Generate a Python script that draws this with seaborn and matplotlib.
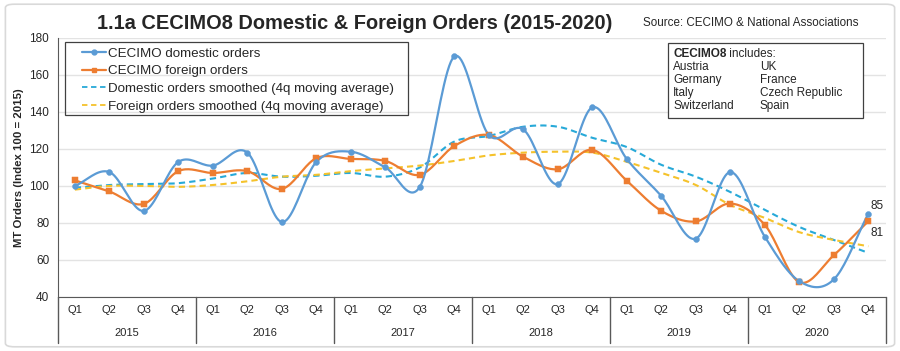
import numpy as np
import matplotlib
matplotlib.use("Agg")
import matplotlib.pyplot as plt
import matplotlib.transforms as mtransforms
from matplotlib.lines import Line2D
from matplotlib.patches import FancyBboxPatch
import seaborn as sns

# Data
years = ["2015", "2016", "2017", "2018", "2019", "2020"]
quarters = ["Q1", "Q2", "Q3", "Q4"]
domestic = [100, 107.5, 86.5, 113, 111, 118, 80.5, 113, 118.5, 110, 99.5, 170,
            127.5, 130.5, 101, 142.5, 114.5, 94.5, 71.5, 107.5, 72.5, 48.5, 49.5, 85]
foreign = [103, 97, 90.3, 108, 107, 108, 98.4, 115, 114.6, 113.5, 106, 121.6,
           127.5, 115.7, 109, 119.5, 102.8, 86.5, 80.8, 90.5, 78.9, 48, 62.6, 81]
domestic_smooth = [99, 100.5, 101, 101.5, 104, 107, 105, 105.5, 107, 105, 110, 124,
                   127, 132, 132, 126, 121, 111.4, 105, 96.7, 87, 77.8, 70.8, 63.8]
foreign_smooth = [98, 100, 100, 99.5, 100.5, 102.5, 105, 106, 108, 109.5, 111, 113.5,
                  116.5, 118, 118.5, 118, 113, 107, 100.5, 89.7, 82.7, 75, 70.8, 67.4]
countries_left = ["Austria", "Germany", "Italy", "Switzerland"]
countries_right = ["UK", "France", "Czech Republic", "Spain"]

c_dom = "#5B9BD5"
c_for = "#ED7D31"
c_dom_s = "#27A9D8"
c_for_s = "#F5C22B"


def smooth(y, n=20):
    # Catmull-Rom kurva genom punkterna (som Excels "utjämnad linje")
    y = np.asarray(y, dtype=float)
    x = np.arange(len(y), dtype=float)
    p = np.concatenate([[2 * y[0] - y[1]], y, [2 * y[-1] - y[-2]]])
    xs, ys = [], []
    t = np.linspace(0, 1, n, endpoint=False)
    for i in range(len(y) - 1):
        p0, p1, p2, p3 = p[i], p[i + 1], p[i + 2], p[i + 3]
        seg = 0.5 * ((2 * p1) + (-p0 + p2) * t + (2 * p0 - 5 * p1 + 4 * p2 - p3) * t ** 2
                     + (-p0 + 3 * p1 - 3 * p2 + p3) * t ** 3)
        xs.append(x[i] + t)
        ys.append(seg)
    xs.append([x[-1]])
    ys.append([y[-1]])
    return np.concatenate(xs), np.concatenate(ys)


sns.set_style("white")
plt.rcParams["font.family"] = ["Liberation Sans", "DejaVu Sans"]

fig = plt.figure(figsize=(9, 3.51), dpi=100)
ax = fig.add_axes([0.064, 0.154, 0.920, 0.738])

# yttre ram
fig.patches.append(FancyBboxPatch((0.006, 0.012), 0.988, 0.976, boxstyle="round,pad=0,rounding_size=0.01",
                                  transform=fig.transFigure, fill=False, edgecolor="#D9D9D9", lw=1.2))

n = len(domestic)
xi = np.arange(n)

for vals, col, ls, lw in [(domestic_smooth, c_dom_s, (0, (3, 2)), 1.5),
                          (foreign_smooth, c_for_s, (0, (3, 2)), 1.5),
                          (foreign, c_for, "-", 1.6),
                          (domestic, c_dom, "-", 1.6)]:
    sx, sy = smooth(vals)
    ax.plot(sx, sy, color=col, ls=ls, lw=lw, zorder=3)

sns.scatterplot(x=xi, y=foreign, marker="s", s=20, color=c_for, edgecolor=c_for, ax=ax, zorder=4)
sns.scatterplot(x=xi, y=domestic, marker="o", s=18, color=c_dom, edgecolor=c_dom, ax=ax, zorder=5)

ax.set_xlim(-0.5, n - 0.5)
ax.set_ylim(40, 180)
ax.set_yticks(range(40, 181, 20))
ax.tick_params(axis="y", labelsize=8.5, length=0, pad=6)
ax.grid(axis="y", color="#E3E3E3", lw=1)
ax.set_axisbelow(True)
for s in ["top", "right"]:
    ax.spines[s].set_visible(False)
ax.spines["left"].set_color("#595959")
ax.spines["bottom"].set_color("#595959")

ax.set_xticks(xi)
ax.set_xticklabels(quarters * len(years), fontsize=8)
ax.tick_params(axis="x", length=0, pad=6)

trans = mtransforms.blended_transform_factory(ax.transData, ax.transAxes)
for k, yr in enumerate(years):
    ax.text(4 * k + 1.5, -0.139, yr, transform=trans, ha="center", va="center", fontsize=8)
for k in range(len(years) + 1):
    ax.plot([4 * k - 0.5, 4 * k - 0.5], [0, -0.178], transform=trans, color="#595959", lw=1, clip_on=False)

ax.set_ylabel("MT Orders (Index 100 = 2015)", fontsize=8.2, fontweight="bold", labelpad=4)

ax.annotate("85", (n - 1, domestic[-1]), xytext=(1.5, 5.8), textcoords="offset points",
            fontsize=8.5, ha="left", va="center")
ax.annotate("81", (n - 1, foreign[-1]), xytext=(1.5, -8.3), textcoords="offset points",
            fontsize=8.5, ha="left", va="center")

handles = [Line2D([0], [0], color=c_dom, lw=1.6, marker="o", ms=3.5),
           Line2D([0], [0], color=c_for, lw=1.6, marker="s", ms=3.5),
           Line2D([0], [0], color=c_dom_s, lw=1.3, ls=(0, (3, 2))),
           Line2D([0], [0], color=c_for_s, lw=1.3, ls=(0, (3, 2)))]
labels = ["CECIMO domestic orders", "CECIMO foreign orders",
          "Domestic orders smoothed (4q moving average)", "Foreign orders smoothed (4q moving average)"]
ax.legend(handles, labels, loc="upper left", bbox_to_anchor=(0.0295, 0.963), fontsize=9.6,
          frameon=False, handlelength=1.8, handletextpad=0.15,
          labelspacing=0.40, borderpad=0, borderaxespad=0)
fig.patches.append(plt.Rectangle((0.0722, 0.6724), 0.381, 0.208, transform=fig.transFigure, fill=False,
                                 edgecolor="#404040", lw=0.9, zorder=5))

fig.text(0.394, 0.934, "1.1a CECIMO8 Domestic & Foreign Orders (2015-2020)", ha="center", va="center",
         fontsize=14.4, fontweight="bold")
fig.text(0.714, 0.934, "Source: CECIMO & National Associations", ha="left", va="center", fontsize=8.4)

# landruta
bx0, by0, bw, bh = 0.742, 0.664, 0.217, 0.214
fig.patches.append(plt.Rectangle((bx0, by0), bw, bh, transform=fig.transFigure, fill=True,
                                 facecolor="white", edgecolor="#404040", lw=0.9, zorder=5))
tx0 = 673 / 900
tx1 = 760 / 900
head = fig.text(tx0, 1 - 54 / 351, "CECIMO8", fontsize=8.5, fontweight="bold", va="center", zorder=6)
fig.canvas.draw()
bb = head.get_window_extent().transformed(fig.transFigure.inverted())
fig.text(bb.x1, 1 - 54 / 351, " includes:", fontsize=8.5, va="center", zorder=6)
for i, (a, b) in enumerate(zip(countries_left, countries_right)):
    yy = 1 - (66.5 + i * 13.2) / 351
    fig.text(tx0, yy, a, fontsize=8.5, va="center", zorder=6)
    fig.text(tx1, yy, b, fontsize=8.5, va="center", zorder=6)

fig.savefig("out.png", dpi=100)
